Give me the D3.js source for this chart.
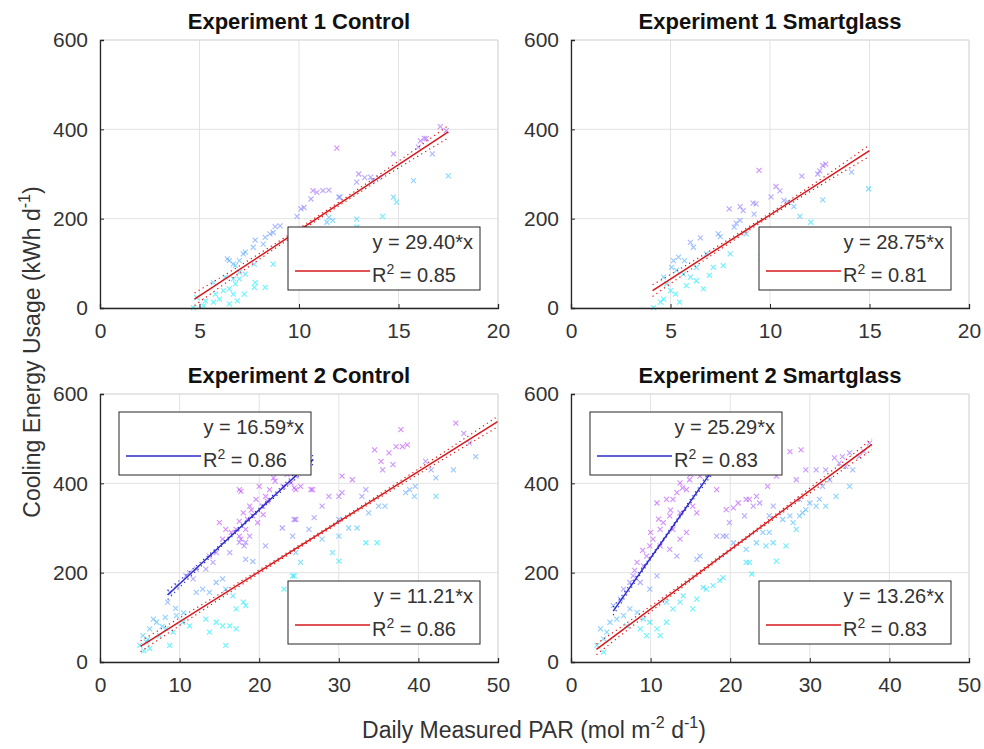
<!DOCTYPE html>
<html>
<head>
<meta charset="utf-8">
<script src="https://cdn.jsdelivr.net/npm/d3@7"></script>
<style>
    body { margin: 0; background: #fff; }
</style>
</head>
<body>
<div id="chart"></div>

<script>

    // scatter points [PAR, energy]
    var exp1Control = [
        [17.1,406],[17.4,397],[11.9,358],[16.3,380],[16.1,374],[14.75,345],[16.7,345],[17.5,296],[15.75,285],[13,300],
        [13.3,292],[12.9,282],[14,292],[13.7,285],[14.2,205],[14.75,248],[14.9,237],[12,248],[10.7,263],[10.9,259],
        [11.2,263],[11.5,264],[10.6,244],[10.25,225],[10.1,222],[9.9,205],[11.5,203],[11.7,196],[11.4,192],[12.9,199],
        [12.9,181],[11.9,162],[11.2,143],[9.8,106],[8.8,182],[8.7,169],[8.3,158],[7.8,152],[8.2,143],[7.7,136],
        [7.3,125],[7.2,121],[6.7,98],[6.8,95],[6.5,106],[7,106],[6.4,110],[7.75,98],[7.8,57],[7.75,46],
        [8.3,46],[8.7,98],[5.7,57],[6.3,69],[6.7,65],[7,65],[6.8,54],[6.5,43],[6.2,39],[5.8,31],
        [6.7,31],[7.25,31],[6.9,16],[6.5,9],[5.3,16],[5.2,5],[4.7,1],[5.7,13],[6,20],[7,80],
        [7.3,76],[16.4,379],[16,360],[13.6,293],[12.06,248],[9.05,184],[8.54,166],[4.86,23]
    ];

    var exp1Smart = [
        [9.45,308],[10.3,272],[10.5,262],[11.6,295],[12.5,307],[12.65,319],[12.8,322],[12.4,300],[14.1,304],[14.95,267],
        [12.65,242],[10.7,241],[10.9,237],[11.2,227],[11.5,205],[12.05,192],[10.05,249],[7.95,222],[8.5,227],[8.65,218],
        [9.15,235],[9.3,233],[9.2,210],[8.3,190],[8.5,196],[8.2,181],[7.4,166],[7.5,160],[6.5,157],[6,147],
        [6.15,136],[6.8,121],[8,121],[8.8,166],[10.1,166],[11.1,162],[10.3,151],[10.1,147],[9.55,114],[7.15,91],
        [7.65,95],[5.7,106],[5.4,114],[5.15,106],[5.05,91],[5.3,84],[5.65,76],[6,69],[6.3,61],[6.65,43],
        [4.65,69],[4.8,54],[5,39],[5.25,31],[4.65,20],[4.5,13],[4.15,1],[5.45,13],[5.8,50],[6.95,73],
        [6.3,91]
    ];

    var exp2Control = [
        [22.5,426],[24.6,416],[24,401],[23,393],[21.3,386],[20,393],[20.8,371],[19.6,364],[18.8,349],[18,334],
        [19.2,327],[19.8,312],[17.5,315],[17.1,297],[18.3,297],[18.8,282],[17.7,275],[15.8,297],[15,312],[15.4,275],
        [16.3,245],[14.6,245],[13.75,237],[14.2,223],[13.3,208],[12.1,208],[11.25,200],[10.8,193],[11.7,186],[9.6,171],
        [8.75,156],[8.5,134],[17.5,386],[24.6,386],[25.2,393],[21,360],[22,405],[19,340],[20.5,330],[16.5,290],
        [18.5,320],[21.8,412],[23.5,420],
        [14.6,178],[15.4,186],[12.9,163],[12.1,156],[13.75,156],[15.8,163],[16.7,148],[18,134],[18.3,126],[17.1,119],
        [9.6,104],[10.4,89],[11.25,81],[13.3,96],[14.6,89],[15.4,81],[16.3,81],[17.1,74],[13.75,67],[15.8,37],
        [7.1,89],[6.25,74],[7.5,59],[5.4,59],[5.8,45],[5,37],[6.25,30],[8.75,37],[8.3,74],[9.2,67],
        [6.7,96],[5.5,25],[6,50],[7.8,80],[8.2,100],[9.5,120],[10.5,110],[18.3,230],[19.2,225],[20.8,260],
        [44.7,535],[45.7,512],[46.4,490],[47.2,460],[37.8,520],[34.5,475],[36.3,468],[37.2,482],[38,482],[38.6,486],
        [35.3,449],[35.5,430],[36.8,442],[40.9,449],[41.6,430],[42.2,412],[44.4,430],[38.9,386],[39.5,371],[38.4,379],
        [39.6,393],[42.2,371],[30.4,416],[31.7,408],[33.4,386],[30,371],[30.4,379],[28.75,371],[32.9,371],[27.9,349],
        [35.8,349],[35,349],[33.75,334],[26.5,386],[24.4,390],[24.6,319],[26.9,323],[30,319],[31.25,300],[32.3,300],
        [30,282],[33.4,267],[34.8,267],[27.9,275],[29.2,245],[30,226],[24.6,245],[25.2,223],[24.4,193],[24.2,282],
        [26.25,297],[23.1,163],[24.2,193],[25,171],[17.5,282],[20.4,349],[17.7,382],[24.4,319],[22.9,300],[26.7,386],
        [17.5,268],[18.3,268],[18.1,260]
    ];

    var exp2Smart = [
        [17.85,434],[17.2,419],[16.2,416],[14.9,408],[13.7,401],[14.5,386],[13.3,379],[12.8,364],[12,364],[10.8,356],
        [15.3,349],[15.8,334],[13.7,334],[12.4,327],[11.6,312],[11.2,297],[12.8,297],[14.5,290],[13.7,275],[10.3,275],
        [9.9,260],[11.2,260],[12.4,252],[13.3,237],[9.5,237],[8.3,223],[9.1,215],[7.8,193],[7.4,178],[8.7,178],
        [6.6,163],[6.2,141],[5.3,126],[9.9,163],[10.8,193],[18.3,386],[22,364],[15,420],[14,390],[16.5,430],
        [12.5,340],[11,320],[10,290],[9,250],[8,205],
        [3.25,37],[4.1,52],[4.5,67],[3.7,74],[4.9,89],[5.75,96],[6.6,104],[7,81],[4.1,22],[7.4,119],
        [8.3,111],[9.1,96],[9.9,89],[10.8,74],[11.2,59],[12,89],[12.8,119],[13.7,134],[12,134],[14.1,148],
        [15.3,119],[15.8,141],[17,163],[17.85,171],[18.7,182],[15.8,230],[16.2,237],[18.3,282],[19.1,282],[8.7,74],
        [9.5,59],[16.6,167],[19.1,189],
        [37.5,490],[36.8,471],[36.2,460],[35.4,430],[34.5,438],[33.7,445],[33.1,457],[32,430],[30.8,430],[29.5,430],
        [32.5,408],[31.6,393],[33.3,371],[35,393],[31.2,364],[30,356],[28.7,364],[29.5,341],[30.8,349],[32,349],
        [28.7,327],[29.1,334],[27.5,327],[28.3,297],[25.8,468],[27.5,471],[28.9,475],[26.2,445],[25.6,430],[25.8,416],
        [24.7,393],[23.3,371],[22.4,364],[23.7,356],[22.9,349],[21,356],[20.4,345],[19.5,341],[21.8,327],[19.9,312],
        [25.4,349],[24.9,327],[26.6,319],[27.9,312],[24.1,290],[24.9,290],[23.3,267],[24.5,260],[25.4,267],[27,260],
        [25.8,226],[22,252],[22.4,223],[22,223],[22.7,197],[20.4,267],[19.5,282],[28.3,408],[34.1,460],[35,468]
    ];

    // linear fits: slope, intercept, x range, confidence half-width (middle / ends), R^2
    var exp1ControlFits = [{ slope: 29.40, intercept: -120, from: 4.75, to: 17.5, ciMid: 4, ciEnd: 14, r2: 0.85 }];
    var exp1SmartFits   = [{ slope: 28.75, intercept: -79,  from: 4.1,  to: 15,   ciMid: 4, ciEnd: 13, r2: 0.81 }];
    var exp2ControlFits = [
        { slope: 11.21, intercept: -22, from: 5.1, to: 50,   ciMid: 3, ciEnd: 12, r2: 0.86 },
        { slope: 16.59, intercept: 9,   from: 8.5, to: 26.8, ciMid: 3, ciEnd: 10, r2: 0.86 }
    ];
    var exp2SmartFits = [
        { slope: 13.26, intercept: -14, from: 3.2, to: 37.8, ciMid: 3, ciEnd: 12, r2: 0.83 },
        { slope: 25.29, intercept: -20, from: 5.3, to: 18.2, ciMid: 3, ciEnd: 9,  r2: 0.83 }
    ];

    var yTicks = [0, 200, 400, 600];
    var xTicksExp1 = [0, 5, 10, 15, 20];
    var xTicksExp2 = [0, 10, 20, 30, 40, 50];

    var width = 984, height = 749;
    var font = "'Liberation Sans', Arial, sans-serif";
    var ink = '#333333';
    var fitColors = ['#d7191c', '#2b2bc8'];
    var cool = d3.interpolateRgb('#00f0ff', '#ff00ff');

    var panels = [
        { title: 'Experiment 1 Control',    left: 100, top: 40,  xMax: 20, xTicks: xTicksExp1, points: exp1Control, fits: exp1ControlFits, legends: ['se'], colorTop: 400 },
        { title: 'Experiment 1 Smartglass', left: 571, top: 40,  xMax: 20, xTicks: xTicksExp1, points: exp1Smart,   fits: exp1SmartFits,   legends: ['se'], colorTop: 400 },
        { title: 'Experiment 2 Control',    left: 100, top: 394, xMax: 50, xTicks: xTicksExp2, points: exp2Control, fits: exp2ControlFits, legends: ['se', 'nw'], colorTop: 550 },
        { title: 'Experiment 2 Smartglass', left: 571, top: 394, xMax: 50, xTicks: xTicksExp2, points: exp2Smart,   fits: exp2SmartFits,   legends: ['se', 'nw'], colorTop: 550 }
    ];
    var pw = 398, ph = 268;

    var svg = d3.select('#chart').append('svg')
        .attr('width', width)
        .attr('height', height)
        .style('font-family', font);

    // text with superscript pieces, e.g. [['m', false], ['-2', true]]
    function supText(sel, parts, fs) {
        var up = false;
        parts.forEach(function(p) {
            var t = sel.append('tspan').text(p[0]);
            if (p[1]) {
                t.attr('font-size', fs * 0.7).attr('dy', -fs * 0.42);
                up = true;
            } else if (up) {
                t.attr('dy', fs * 0.42);
                up = false;
            }
        });
    }

    panels.forEach(function(p) {
        var x = d3.scaleLinear().domain([0, p.xMax]).range([0, pw]);
        var y = d3.scaleLinear().domain([0, 600]).range([ph, 0]);

        var g = svg.append('g')
            .attr('transform', 'translate(' + p.left + ',' + p.top + ')');

        // grid
        g.selectAll('line.gx').data(p.xTicks).enter().append('line')
            .attr('x1', function(d) { return x(d); }).attr('x2', function(d) { return x(d); })
            .attr('y1', 0).attr('y2', ph)
            .attr('stroke', '#e3e3e3');
        g.selectAll('line.gy').data(yTicks).enter().append('line')
            .attr('x1', 0).attr('x2', pw)
            .attr('y1', function(d) { return y(d); }).attr('y2', function(d) { return y(d); })
            .attr('stroke', '#e3e3e3');

        // colour: cool map driven by energy and distance above the main fit
        var redFit = p.fits[0];
        function markColor(d) {
            var resid = d[1] - (redFit.slope * d[0] + redFit.intercept);
            var t = 0.55 * d[1] / p.colorTop + resid / 300 + 0.05;
            return cool(Math.max(0, Math.min(0.72, t)));
        }

        // scatter, x markers
        g.selectAll('path.pt').data(p.points).enter().append('path')
            .attr('class', 'pt')
            .attr('transform', function(d) { return 'translate(' + x(d[0]) + ',' + y(d[1]) + ')'; })
            .attr('d', 'M-2.5,-2.5L2.5,2.5M-2.5,2.5L2.5,-2.5')
            .attr('stroke', markColor)
            .attr('stroke-width', 1.1)
            .attr('opacity', 0.6)
            .attr('fill', 'none');

        var line = d3.line()
            .x(function(d) { return x(d[0]); })
            .y(function(d) { return y(d[1]); });

        p.fits.forEach(function(f, i) {
            var xm = (f.from + f.to) / 2, h = (f.to - f.from) / 2;
            var xs = d3.range(0, 31).map(function(k) { return f.from + (f.to - f.from) * k / 30; });
            [-1, 1].forEach(function(s) {
                g.append('path')
                    .datum(xs.map(function(v) {
                        var u = (v - xm) / h;
                        return [v, f.slope * v + f.intercept + s * (f.ciMid + (f.ciEnd - f.ciMid) * u * u)];
                    }))
                    .attr('d', line)
                    .attr('fill', 'none')
                    .attr('stroke', fitColors[i])
                    .attr('stroke-width', 1.2)
                    .attr('stroke-dasharray', '1.2,3.5');
            });
            g.append('path')
                .datum([[f.from, f.slope * f.from + f.intercept], [f.to, f.slope * f.to + f.intercept]])
                .attr('d', line)
                .attr('fill', 'none')
                .attr('stroke', fitColors[i])
                .attr('stroke-width', 1.5);

            // legend box
            var bx = p.legends[i] === 'se' ? pw - 210 : 19;
            var by = p.legends[i] === 'se' ? ph - 81 : 18;
            var lg = g.append('g').attr('transform', 'translate(' + bx + ',' + by + ')');
            lg.append('rect')
                .attr('width', 192).attr('height', 63)
                .attr('fill', '#fff').attr('stroke', '#262626').attr('stroke-width', 1);
            lg.append('text')
                .attr('x', 185).attr('y', 22)
                .attr('text-anchor', 'end')
                .attr('font-size', 20)
                .attr('fill', ink)
                .text('y = ' + f.slope.toFixed(2) + '*x');
            lg.append('line')
                .attr('x1', 7).attr('x2', 82).attr('y1', 44).attr('y2', 44)
                .attr('stroke', fitColors[i]).attr('stroke-width', 1.5);
            var rt = lg.append('text')
                .attr('x', 84).attr('y', 55)
                .attr('font-size', 20)
                .attr('fill', ink);
            supText(rt, [['R', false], ['2', true], [' = ' + f.r2.toFixed(2), false]], 20);
        });

        // box: top/right light, left/bottom dark
        g.append('line').attr('x1', 0).attr('x2', pw).attr('y1', 0).attr('y2', 0).attr('stroke', '#d9d9d9');
        g.append('line').attr('x1', pw).attr('x2', pw).attr('y1', 0).attr('y2', ph).attr('stroke', '#d9d9d9');

        var xAxis = g.append('g')
            .attr('transform', 'translate(0,' + ph + ')')
            .call(d3.axisBottom(x).tickValues(p.xTicks).tickSize(-4).tickPadding(15));
        var yAxis = g.append('g')
            .call(d3.axisLeft(y).tickValues(yTicks).tickSize(-4).tickPadding(12));
        [xAxis, yAxis].forEach(function(a) {
            a.select('.domain').attr('stroke', '#262626').attr('stroke-width', 1.3);
            a.selectAll('.tick line').attr('stroke', '#262626');
            a.selectAll('.tick text').attr('fill', ink).attr('font-size', 21).attr('font-family', font);
        });

        g.append('text')
            .attr('x', pw / 2).attr('y', -11)
            .attr('text-anchor', 'middle')
            .attr('font-size', 22)
            .attr('font-weight', 'bold')
            .attr('fill', '#111')
            .text(p.title);
    });

    var xl = svg.append('text')
        .attr('x', 534).attr('y', 738)
        .attr('text-anchor', 'middle')
        .attr('font-size', 23)
        .attr('fill', ink);
    supText(xl, [['Daily Measured PAR (mol m', false], ['-2', true], [' d', false], ['-1', true], [')', false]], 23);

    var yl = svg.append('text')
        .attr('transform', 'translate(40,352) rotate(-90)')
        .attr('text-anchor', 'middle')
        .attr('font-size', 23)
        .attr('fill', ink);
    supText(yl, [['Cooling Energy Usage (kWh d', false], ['-1', true], [')', false]], 23);

</script>
</body>
</html>
